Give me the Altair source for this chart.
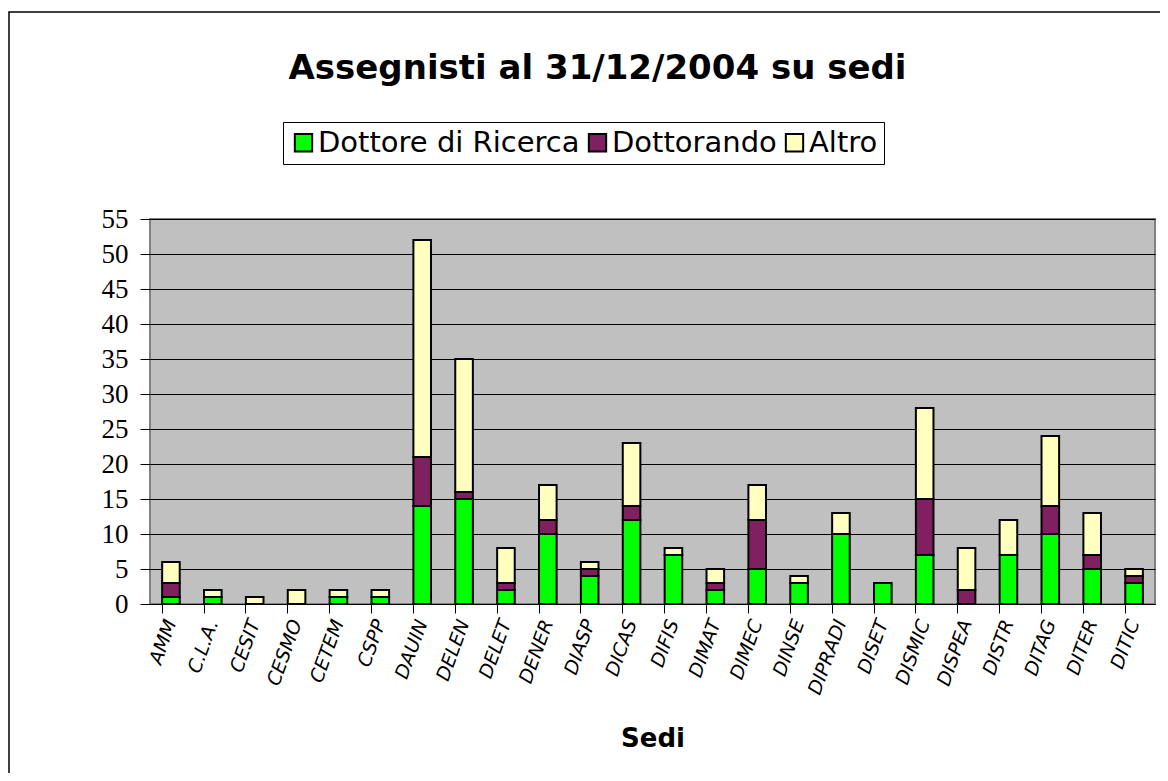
import altair as alt
import pandas as pd

sedi = ["AMM", "C.L.A.", "CESIT", "CESMO", "CETEM", "CSPP", "DAUIN", "DELEN",
        "DELET", "DENER", "DIASP", "DICAS", "DIFIS", "DIMAT", "DIMEC", "DINSE",
        "DIPRADI", "DISET", "DISMIC", "DISPEA", "DISTR", "DITAG", "DITER", "DITIC"]
dottore = [1, 1, 0, 0, 1, 1, 14, 15, 2, 10, 4, 12, 7, 2, 5, 3, 10, 3, 7, 0, 7, 10, 5, 3]
dottorando = [2, 0, 0, 0, 0, 0, 7, 1, 1, 2, 1, 2, 0, 1, 7, 0, 0, 0, 8, 2, 0, 4, 2, 1]
altro = [3, 1, 1, 2, 1, 1, 31, 19, 5, 5, 1, 9, 1, 2, 5, 1, 3, 0, 13, 6, 5, 10, 6, 1]

series = ["Dottore di Ricerca", "Dottorando", "Altro"]
colors = ["#00FF00", "#802060", "#FFFFC0"]
y_ticks = list(range(0, 56, 5))

rows = []
for i, s in enumerate(sedi):
    for k, (name, vals) in enumerate(zip(series, [dottore, dottorando, altro])):
        rows.append({"Sede": s, "Serie": name, "Valore": vals[i], "ordine": k})
df = pd.DataFrame(rows)

bars = alt.Chart(df).mark_bar(stroke="black", strokeWidth=2).encode(
    x=alt.X("Sede:N", sort=sedi, scale=alt.Scale(paddingInner=0.58, paddingOuter=0.29),
            axis=alt.Axis(title="Sedi", labelAngle=-70, labelAlign="right",
                          labelBaseline="middle", labelFont="DejaVu Sans",
                          labelFontStyle="italic", labelFontSize=19, labelColor="black",
                          labelPadding=7, labelOffset=0, bandPosition=0,
                          tickSize=9, tickColor="black", domainColor="black",
                          titleFont="DejaVu Sans", titleFontSize=26, titleFontWeight="bold",
                          titleColor="black", titleY=142, titleBaseline="alphabetic")),
    y=alt.Y("Valore:Q", stack="zero", scale=alt.Scale(domain=[0, 55], nice=False),
            axis=alt.Axis(title=None, values=y_ticks, labelFont="Liberation Serif",
                          labelFontSize=27, labelColor="black", tickSize=10,
                          tickColor="black", labelPadding=12, domain=False,
                          gridColor="black", gridWidth=1, gridOpacity=1)),
    color=alt.Color("Serie:N", sort=series,
                    scale=alt.Scale(domain=series, range=colors),
                    legend=alt.Legend(title=None, orient="none", direction="horizontal",
                                      legendX=133, legendY=-97,
                                      labelFont="DejaVu Sans", labelFontSize=29,
                                      labelColor="black", labelLimit=400,
                                      symbolType="square", symbolSize=300,
                                      symbolStrokeColor="black", symbolStrokeWidth=2,
                                      symbolOpacity=1, columnPadding=3, labelOffset=0,
                                      strokeColor="black", padding=6, fillColor="white")),
    order=alt.Order("ordine:Q"),
)

frame = alt.Chart(alt.Data(values=[{}])).mark_rect(
    fill=None, stroke="black", strokeWidth=1.5, clip=False
).encode(
    x=alt.value(-141), x2=alt.value(1013), y=alt.value(-207), y2=alt.value(600)
)

chart = alt.layer(frame, bars).properties(
    width=1005, height=385,
    autosize="none",
    padding={"left": 142, "top": 211, "right": 5, "bottom": 169},
    title=alt.Title("Assegnisti al 31/12/2004 su sedi", font="DejaVu Sans", fontSize=34,
                    fontWeight="bold", color="black", anchor="middle", dx=-55,
                    offset=0, dy=102, baseline="alphabetic"),
    background="white",
).configure_view(
    fill="#C0C0C0", stroke="#808080", strokeWidth=2
)

chart.save("out.html", embed_options={"renderer": "svg", "actions": False})
